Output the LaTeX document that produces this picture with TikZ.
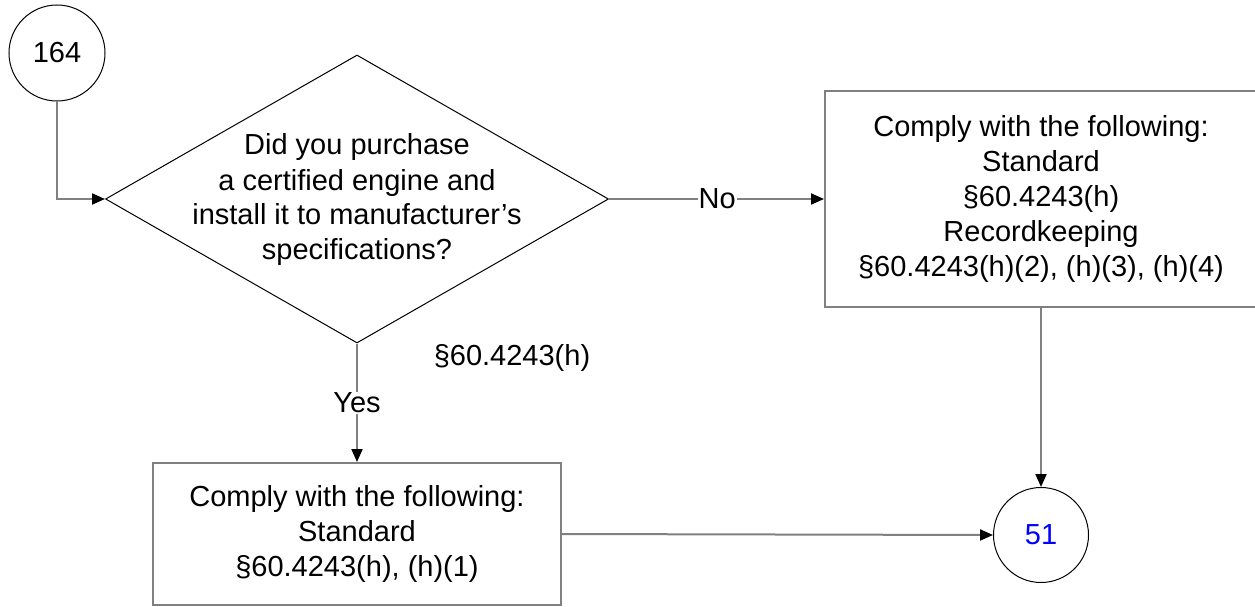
\documentclass[tikz,border=0pt]{standalone}
\usepackage{fontspec}
\setmainfont{Liberation Sans}
\usetikzlibrary{shapes.geometric,arrows.meta}
\definecolor{lgray}{RGB}{128,128,128}
\definecolor{lblue}{RGB}{0,0,255}
\tikzset{
  every node/.style={font=\fontsize{29}{35}\selectfont},
  conn/.style={draw=lgray,line width=2pt,-{Triangle[length=13pt,width=11pt,black]}},
  plainconn/.style={draw=lgray,line width=2pt},
  termcircle/.style={circle,draw=black,line width=1pt,inner sep=0pt},
  actbox/.style={rectangle,draw=lgray,line width=2pt,inner sep=0pt,align=center},
  decshape/.style={diamond,draw=black,line width=1pt,inner sep=0pt},
  lbl/.style={fill=white,inner sep=1pt},
}
\begin{document}
\begin{tikzpicture}[x=1pt,y=-1pt]
\useasboundingbox (0,0) rectangle (1255,607);
\node[termcircle,minimum size=96pt] (c164) at (57,53) {164};
\node[decshape,minimum width=503pt,minimum height=288pt] (dec) at (357,199) {};
\node[align=center] (dectext) at (357,200) {Did you purchase\\ a certified engine and\\install it to manufacturer’s\\specifications?};
\node[actbox,minimum width=432pt,minimum height=216pt] (rbox) at (1041,199)
  {Comply with the following:\\Standard\\§60.4243(h)\\Recordkeeping\\§60.4243(h)(2), (h)(3), (h)(4)};
\node[actbox,minimum width=408pt,minimum height=142pt] (bbox) at (357,534)
  {Comply with the following:\\Standard\\§60.4243(h), (h)(1)};
\node[termcircle,minimum size=95pt,text=lblue] (c51) at (1041,535) {51};
\node (ref) at (512,358) {§60.4243(h)};
\draw[conn] (c164.south) |- (dec.west);
\draw[conn] (dec.east) -- node[lbl,pos=0.503] {No} (rbox.west);
\draw[conn] (dec.south) -- node[lbl,pos=0.5] {Yes} (bbox.north);
\draw[conn] (rbox.south) -- (c51.north);
\draw[conn] (bbox.east) -- (c51.west);
\end{tikzpicture}
\end{document}
